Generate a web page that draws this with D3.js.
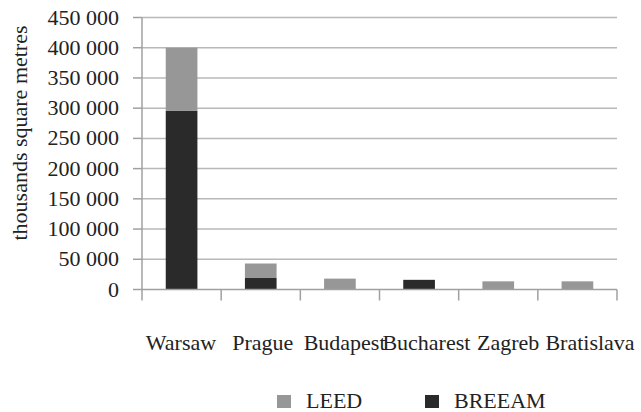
<!DOCTYPE html>
<html>
<head>
<meta charset="utf-8">
<script src="https://cdn.jsdelivr.net/npm/d3@7"></script>
</head>
<body style="margin:0">
<svg width="641" height="412">
<text transform="translate(27,133) rotate(-90)" text-anchor="middle" font-family="Liberation Serif" font-size="22" fill="#222">thousands square metres</text>
</svg>
<script>
// data
var cities = ["Warsaw", "Prague", "Budapest", "Bucharest", "Zagreb", "Bratislava"];
var breeam = [296000, 19000, 0, 16000, 0, 0];
var leed = [104000, 24000, 18000, 0, 13500, 13500];
var yTicks = [0, 50000, 100000, 150000, 200000, 250000, 300000, 350000, 400000, 450000];
var legendNames = ["LEED", "BREEAM"];

var svg = d3.select("svg"),
    pLeft = 142, pRight = 617, pTop = 17.5, pBottom = 289.5;

var x = d3.scaleBand().domain(cities).range([pLeft, pRight])
    .paddingInner(0.6).paddingOuter(0.3);
// labels sit a bit wider apart than the bars
var xLab = d3.scalePoint().domain(cities).range([181, 590]);
var y = d3.scaleLinear().domain([0, 450000]).range([pBottom, pTop]);

var fmt = function(v) { return d3.format(",")(v).replace(/,/g, " "); };

// gridlines
svg.append("g").selectAll("line")
    .data(yTicks.slice(1)).enter().append("line")
    .attr("x1", pLeft).attr("x2", pRight)
    .attr("y1", function(d){ return y(d); }).attr("y2", function(d){ return y(d); })
    .style("stroke", "#b8b8b8").style("stroke-width", 1.5);

// y axis, drawn by hand so no sans-serif default sneaks in
var yg = svg.append("g");
yg.selectAll("line").data(yTicks).enter().append("line")
    .attr("x1", pLeft - 9).attr("x2", pLeft)
    .attr("y1", function(d){ return y(d); }).attr("y2", function(d){ return y(d); })
    .style("stroke", "#a0a0a0").style("stroke-width", 1.5);
yg.selectAll("text").data(yTicks).enter().append("text")
    .attr("x", pLeft - 23)
    .attr("y", function(d){ return y(d) + 7; })
    .attr("text-anchor", "end")
    .attr("font-family", "Times New Roman").attr("font-size", 22).attr("fill", "#222")
    .text(fmt);
svg.append("line").attr("x1", pLeft).attr("x2", pLeft).attr("y1", pTop).attr("y2", pBottom + 11)
    .style("stroke", "#a0a0a0").style("stroke-width", 1.5);

// stacked bars
var stack = cities.map(function(c, i){ return {city: c, b: breeam[i], l: leed[i]}; });
svg.append("g").selectAll("rect").data(stack).enter().append("rect")
    .attr("x", function(d){ return x(d.city); })
    .attr("width", x.bandwidth())
    .attr("y", function(d){ return y(d.b); })
    .attr("height", function(d){ return y(0) - y(d.b); })
    .style("fill", "#2a2a2a");
svg.append("g").selectAll("rect").data(stack).enter().append("rect")
    .attr("x", function(d){ return x(d.city); })
    .attr("width", x.bandwidth())
    .attr("y", function(d){ return y(d.b + d.l); })
    .attr("height", function(d){ return y(d.b) - y(d.b + d.l); })
    .style("fill", "#979797");

// x axis line + tick marks at band edges
svg.append("line").attr("x1", pLeft).attr("x2", pRight).attr("y1", pBottom).attr("y2", pBottom)
    .style("stroke", "#a0a0a0").style("stroke-width", 1.5);
svg.append("g").selectAll("line")
    .data(cities).enter().append("line")
    .attr("x1", function(d){ return x(d) + x.bandwidth() + x.step() * 0.3; })
    .attr("x2", function(d){ return x(d) + x.bandwidth() + x.step() * 0.3; })
    .attr("y1", pBottom).attr("y2", pBottom + 11)
    .style("stroke", "#a0a0a0").style("stroke-width", 1.5);

// category labels
svg.append("g").selectAll("text").data(cities).enter().append("text")
    .attr("x", function(d){ return xLab(d); })
    .attr("y", 350)
    .attr("text-anchor", "middle")
    .attr("font-family", "Times New Roman").attr("font-size", 22).attr("fill", "#222")
    .text(function(d){ return d; });

// legend
var legendColors = ["#979797", "#2a2a2a"];
var legendX = d3.scalePoint().domain(legendNames).range([277, 425]);
var lg = svg.append("g").selectAll("g").data(legendNames).enter().append("g")
    .attr("transform", function(d){ return "translate(" + legendX(d) + ",395)"; });
lg.append("rect").attr("width", 14).attr("height", 13)
    .style("fill", function(d, i){ return legendColors[i]; });
lg.append("text").attr("x", 29).attr("y", 13)
    .attr("font-family", "Times New Roman").attr("font-size", 22).attr("fill", "#222")
    .text(function(d){ return d; });
</script>
</body>
</html>
